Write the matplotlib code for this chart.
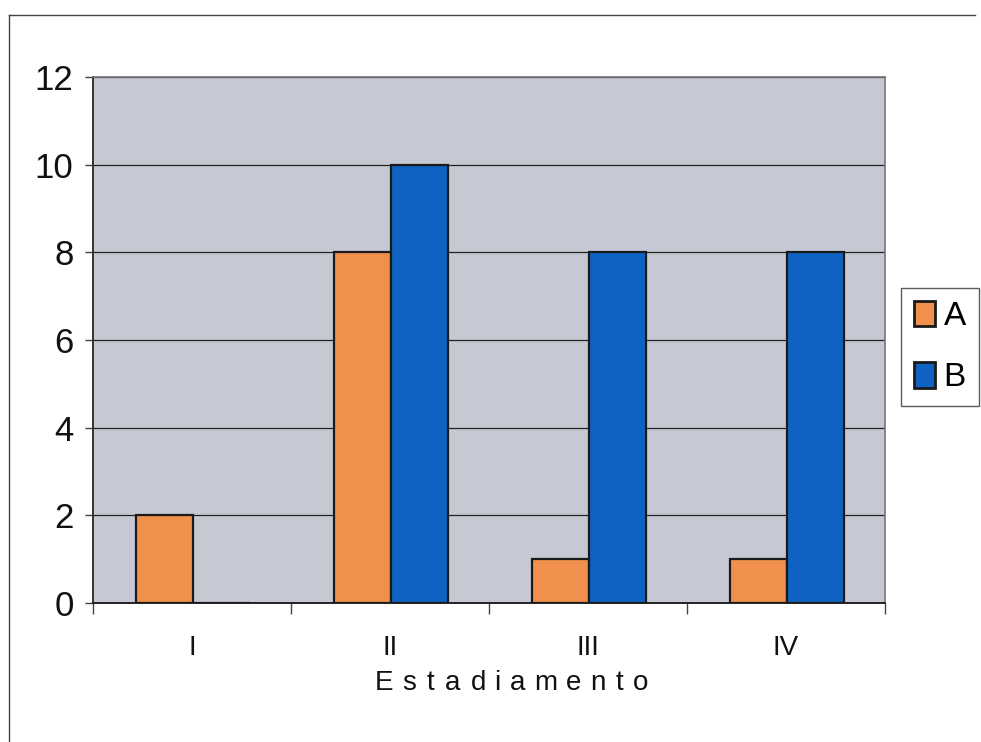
import matplotlib
matplotlib.use("Agg")
import matplotlib.pyplot as plt
import numpy as np
from matplotlib.patches import Patch
from matplotlib.lines import Line2D
from matplotlib.textpath import TextPath
from matplotlib.font_manager import FontProperties

plt.rcParams['font.family'] = ['Liberation Sans', 'DejaVu Sans']

categories = ["I", "II", "III", "IV"]
series_a = [2, 8, 1, 1]
series_b = [0, 10, 8, 8]
y_ticks = [0, 2, 4, 6, 8, 10, 12]
x_title = "Estadiamento"

color_a = "#f0904c"
color_b = "#0f62c2"
plot_bg = "#c6c8d4"
edge = "#1a1a1a"

W, H = 981, 742
fig = plt.figure(figsize=(W / 100, H / 100), dpi=100)
fig.patch.set_facecolor("white")
ax = fig.add_axes([93 / W, 1 - 603 / H, (885 - 93) / W, (603 - 77) / H])
ax.set_facecolor(plot_bg)

x = np.arange(len(categories))
w = 0.288
ax.bar(x - w / 2 + 0.005, series_a, width=w, color=color_a, edgecolor=edge, linewidth=1.6, zorder=3)
ax.bar(x + w / 2 + 0.005, series_b, width=w, color=color_b, edgecolor=edge, linewidth=1.6, zorder=3)

ax.set_xlim(-0.5, len(categories) - 0.5)
ax.set_ylim(0, 12)
ax.set_yticks(y_ticks)
ax.set_yticklabels([str(v) for v in y_ticks], fontsize=25, color="#111111")
ax.yaxis.grid(True, color="#222222", linewidth=0.9, zorder=1)
ax.set_axisbelow(True)

ax.set_xticks(x)
ax.set_xticklabels(categories, fontsize=20, color="#111111")
ax.set_xticks(np.arange(-0.5, len(categories)), minor=True)
ax.tick_params(axis='x', which='major', length=0, pad=23)
ax.tick_params(axis='x', which='minor', length=8, width=1, color="#444444", direction='out')
ax.tick_params(axis='y', length=6, width=1, color="#444444", direction='out', pad=8)

for side in ["top", "right"]:
    ax.spines[side].set_color("#777777")
    ax.spines[side].set_linewidth(1.2)
ax.spines["left"].set_color("#333333")
ax.spines["left"].set_linewidth(1.4)
ax.spines["bottom"].set_color("#222222")
ax.spines["bottom"].set_linewidth(1.4)

# axis title with wide letter tracking, laid out glyph by glyph
title_size = 20
tracking_px = 11.7
fp = FontProperties(family="Liberation Sans", size=title_size)
px_per_pt = 100 / 72
advances = [TextPath((0, 0), ch, prop=fp).get_extents().width * px_per_pt
            if ch.strip() else title_size * 0.28 * px_per_pt for ch in x_title]
total = sum(advances) + tracking_px * (len(x_title) - 1)
cx, cy = 512, 683
pos = cx - total / 2
for ch, adv in zip(x_title, advances):
    fig.text((pos + adv / 2) / W, 1 - cy / H, ch, ha="center", va="center",
             fontsize=title_size, color="#111111")
    pos += adv + tracking_px

handles = [Patch(facecolor=color_a, edgecolor=edge, linewidth=2.0, label="A"),
           Patch(facecolor=color_b, edgecolor=edge, linewidth=2.0, label="B")]
leg = fig.legend(handles=handles, loc="upper left", bbox_to_anchor=(901 / W, 1 - 288 / H),
                 fontsize=24, frameon=True, fancybox=False, edgecolor="#333333",
                 handlelength=0.65, handleheight=0.8, handletextpad=0.25,
                 labelspacing=0.9, borderpad=0.38, borderaxespad=0)
leg.get_frame().set_linewidth(1.0)

# outer frame lines of the page
fig.add_artist(Line2D([9 / W, 975 / W], [1 - 15 / H, 1 - 15 / H],
                      color="#444444", linewidth=1.0, transform=fig.transFigure))
fig.add_artist(Line2D([9 / W, 9 / W], [1 - 15 / H, 0],
                      color="#444444", linewidth=1.0, transform=fig.transFigure))

fig.savefig("out.png", dpi=100, facecolor=fig.get_facecolor())
